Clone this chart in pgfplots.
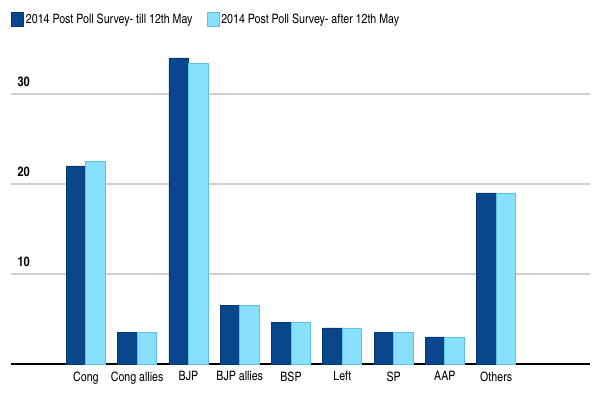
\documentclass[border=0pt]{standalone}
\usepackage{fontspec}
\setmainfont{TeX Gyre Heros Cn}
\usepackage{pgfplots}
\pgfplotsset{compat=1.18}
\definecolor{darkb}{HTML}{0A468C}
\definecolor{darkbe}{HTML}{06386F}
\definecolor{lightb}{HTML}{88E0FC}
\definecolor{lightbe}{HTML}{5CC3E6}
\definecolor{gridc}{HTML}{CFCFCF}
\begin{document}
\begin{tikzpicture}
\path[use as bounding box] (0,0) rectangle (600bp,400bp);
\begin{axis}[
  at={(11bp,36bp)}, anchor=south west,
  width=579bp, height=315bp, scale only axis,
  ybar=0pt, bar width=19.5bp,
  xmin=-1.46, xmax=9.83,
  ymin=0, ymax=35,
  axis x line=bottom, axis y line*=left,
  x axis line style={black, line width=1.4bp, -},
  y axis line style={draw=none},
  xtick={0,...,8},
  xticklabels={Cong,Cong allies,BJP,BJP allies,BSP,Left,SP,AAP,Others},
  major tick length=0pt,
  /pgf/number format/assume math mode=true,
  xticklabel style={font=\fontsize{13}{15}\selectfont, yshift=-4bp},
  ytick={10,20,30},
  ymajorgrids, grid style={gridc, line width=1.4bp},
  yticklabel style={font=\fontsize{13.5}{15}\selectfont\bfseries, anchor=south west, xshift=3bp, yshift=4bp},
  legend columns=2,
  legend style={at={(0,1)}, anchor=north west, xshift=0bp, yshift=37bp, draw=none, fill=none, inner sep=0pt,
    font=\fontsize{13}{15}\selectfont,
    /tikz/every even column/.append style={column sep=12bp}},
  legend image code/.code={\fill[#1] (0bp,-7bp) rectangle (12bp,7bp);},
  legend cell align=left,
  clip=false,
]
\addplot[fill=darkb, draw=darkbe, line width=0.8bp] coordinates {(0,22.0) (1,3.5) (2,34.0) (3,6.5) (4,4.6) (5,4.0) (6,3.5) (7,3.0) (8,19.0)};
\addplot[fill=lightb, draw=lightbe, line width=0.8bp] coordinates {(0,22.5) (1,3.5) (2,33.4) (3,6.5) (4,4.6) (5,4.0) (6,3.5) (7,3.0) (8,19.0)};
\legend{2014 Post Poll Survey- till 12th May,2014 Post Poll Survey- after 12th May}
\end{axis}
\end{tikzpicture}
\end{document}
